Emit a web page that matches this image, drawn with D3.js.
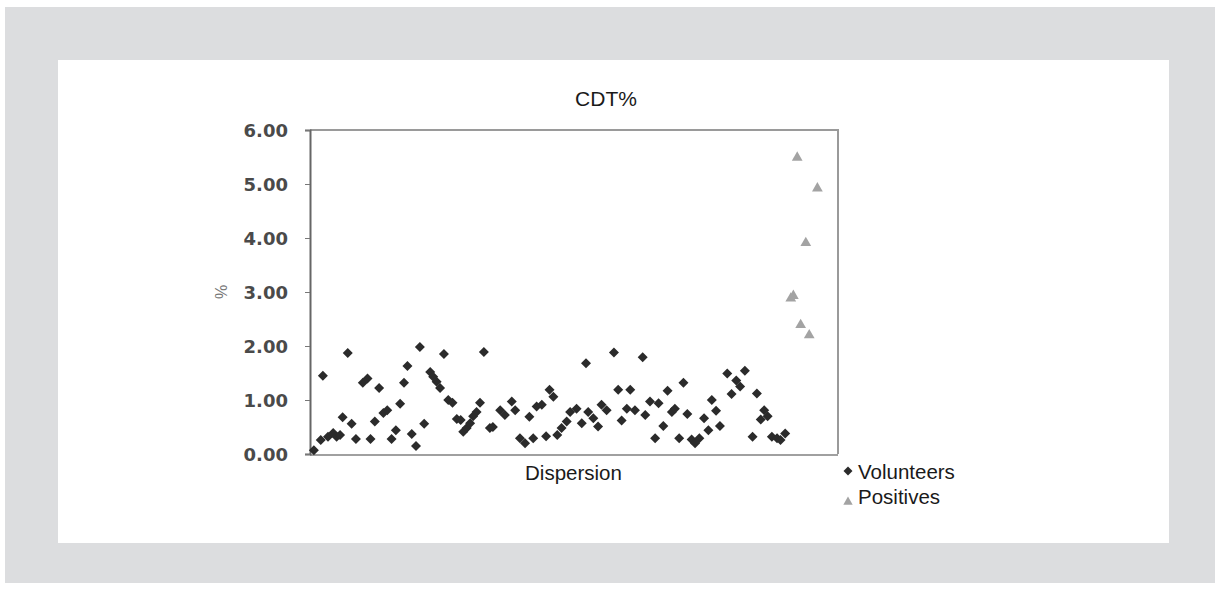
<!DOCTYPE html>
<html><head><meta charset="utf-8">
<script src="https://cdn.jsdelivr.net/npm/d3@7"></script>
<style>body{margin:0;background:#fff;font-family:"Liberation Sans",Arial,sans-serif}</style>
</head><body><svg id="c" width="1220" height="591"></svg>
<script>
const title = "CDT%";
const xLabel = "Dispersion";
const yLabel = "%";
const yTicks = [0,1,2,3,4,5,6];
const seriesNames = ["Volunteers","Positives"];
// [sample position, CDT%]
const volunteers = [
[0.9,0.07],[2.5,0.26],[3.0,1.45],[4.2,0.32],[5.4,0.39],[6.2,0.32],[7.0,0.35],[7.6,0.68],[8.8,1.87],[9.7,0.56],
[10.7,0.28],[12.3,1.32],[13.4,1.40],[14.1,0.28],[15.1,0.60],[16.1,1.22],[17.1,0.76],[18.0,0.81],[19.0,0.28],[20.0,0.44],
[21.0,0.93],[21.9,1.32],[22.7,1.63],[23.7,0.37],[24.7,0.15],[25.6,1.98],[26.6,0.56],[28.0,1.52],[28.7,1.43],[29.5,1.34],
[30.3,1.22],[31.2,1.85],[32.2,1.00],[33.2,0.95],[34.2,0.65],[35.1,0.63],[35.7,0.41],[36.5,0.48],[37.3,0.57],[38.0,0.70],
[38.8,0.78],[39.6,0.95],[40.5,1.89],[41.9,0.48],[42.6,0.50],[44.3,0.81],[45.4,0.72],[47.0,0.97],[47.8,0.81],[48.9,0.29],
[50.1,0.20],[51.1,0.69],[52.0,0.29],[52.8,0.88],[54.0,0.91],[55.0,0.33],[55.8,1.19],[56.7,1.06],[57.6,0.35],[58.6,0.48],
[59.8,0.60],[60.6,0.78],[62.1,0.84],[63.3,0.57],[64.3,1.68],[64.8,0.78],[66.0,0.66],[67.1,0.51],[67.9,0.91],[69.1,0.81],
[70.8,1.88],[71.8,1.19],[72.6,0.62],[73.8,0.84],[74.6,1.19],[75.7,0.81],[77.5,1.79],[78.1,0.72],[79.2,0.97],[80.4,0.29],
[81.2,0.94],[82.3,0.52],[83.3,1.17],[84.3,0.78],[85.0,0.84],[86.0,0.29],[87.0,1.32],[87.9,0.74],[88.9,0.27],[89.7,0.20],
[90.7,0.29],[91.8,0.66],[92.8,0.44],[93.6,1.00],[94.6,0.80],[95.5,0.52],[97.2,1.49],[98.2,1.11],[99.3,1.36],[100.2,1.25],
[101.3,1.54],[103.1,0.32],[104.1,1.12],[105.0,0.64],[105.8,0.81],[106.6,0.70],[107.6,0.32],[108.8,0.29],[109.6,0.26],[110.7,0.38]
];
const positives = [[112.0,2.88],[112.6,2.93],[113.5,5.49],[114.3,2.39],[115.5,3.91],[116.3,2.20],[118.2,4.92]];

const svg = d3.select("#c");
svg.append("rect").attr("x",5).attr("y",7).attr("width",1210).attr("height",576).attr("fill","#dcdddf");
svg.append("rect").attr("x",58).attr("y",60).attr("width",1111).attr("height",483).attr("fill","#fff");

const L=310,R=838,T=130,B=454;
const x = d3.scaleLinear().domain([0,123]).range([L,R]);
const y = d3.scaleLinear().domain([0,6]).range([B,T]);

// frame (top & right)
svg.append("path").attr("d",`M${L},${T}H${R}V${B}`).attr("fill","none").attr("stroke","#9a9a9a").attr("stroke-width",2);
// bottom axis line
svg.append("line").attr("x1",L).attr("x2",R).attr("y1",B+1).attr("y2",B+1).attr("stroke","#a0a0a0").attr("stroke-width",2);

const yAxis = svg.append("g").attr("transform",`translate(${L},0)`)
  .call(d3.axisLeft(y).tickValues(yTicks).tickFormat(d3.format(".2f")).tickSize(5).tickPadding(17));
yAxis.select(".domain").attr("stroke","#666").attr("stroke-width",2);
yAxis.selectAll(".tick line").attr("stroke","#777");
yAxis.selectAll("text").attr("font-size",18).attr("fill","#4a4a4a").attr("font-weight","bold")
  .attr("font-family","'DejaVu Sans',Verdana,sans-serif").attr("dy","0.36em");

const diamond = d3.symbol().type(d3.symbolSquare).size(50);
const tri = d3.symbol().type(d3.symbolTriangle).size(50);

svg.append("g").selectAll("path").data(volunteers).join("path")
  .attr("d",diamond).attr("transform",d=>`translate(${x(d[0])},${y(d[1])}) rotate(45)`).attr("fill","#2b2b2b");
svg.append("g").selectAll("path").data(positives).join("path")
  .attr("d",tri).attr("transform",d=>`translate(${x(d[0])},${y(d[1])})`).attr("fill","#a3a3a3");

svg.append("text").attr("x",606).attr("y",106).attr("text-anchor","middle").attr("font-size",21).attr("fill","#1a1a1a").text(title);
svg.append("text").attr("x",573.5).attr("y",480).attr("text-anchor","middle").attr("font-size",20.5).attr("fill","#1a1a1a").text(xLabel);
svg.append("text").attr("transform","translate(221,292) rotate(-90)").attr("text-anchor","middle").attr("dy","0.35em")
  .attr("font-size",16).attr("fill","#777").text(yLabel);

// legend
const lg = svg.append("g");
lg.append("path").attr("d",d3.symbol().type(d3.symbolSquare).size(40)).attr("transform","translate(848,471) rotate(45)").attr("fill","#2b2b2b");
lg.append("path").attr("d",d3.symbol().type(d3.symbolTriangle).size(38)).attr("transform","translate(848,502)").attr("fill","#a3a3a3");
lg.append("text").attr("x",858).attr("y",479).attr("font-size",20.5).attr("fill","#1a1a1a").text(seriesNames[0]);
lg.append("text").attr("x",858).attr("y",504).attr("font-size",20.5).attr("fill","#1a1a1a").text(seriesNames[1]);
</script></body></html>
